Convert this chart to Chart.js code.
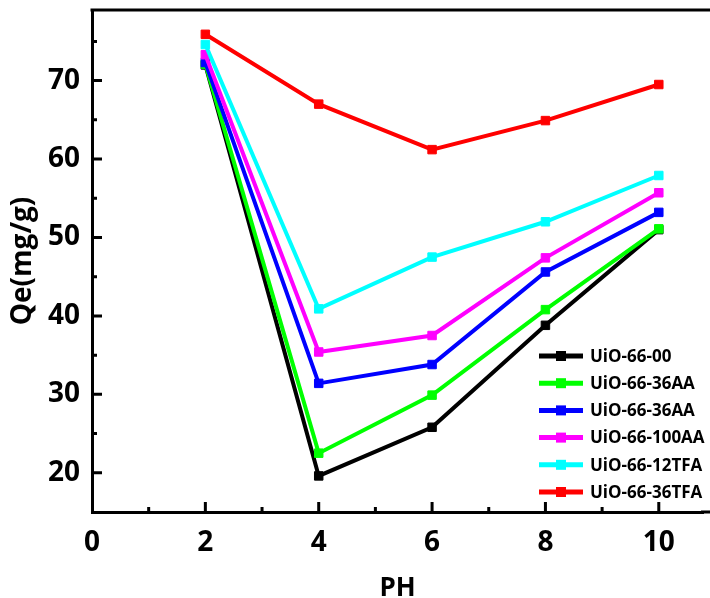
<!DOCTYPE html>
<html>
<head>
<meta charset="utf-8">
<script src="https://cdn.jsdelivr.net/npm/chart.js@4/dist/chart.umd.min.js"></script>
<style>
html,body{margin:0;padding:0;background:#fff;overflow:hidden;}
#wrap{width:710px;height:598px;position:relative;}
</style>
</head>
<body>
<div id="wrap"><canvas id="c" width="710" height="598"></canvas></div>
<script>
const phValues = [2, 4, 6, 8, 10];
const seriesNames = ['UiO-66-00', 'UiO-66-36AA', 'UiO-66-36AA', 'UiO-66-100AA', 'UiO-66-12TFA', 'UiO-66-36TFA'];
const qe00     = [72.0, 19.6, 25.8, 38.8, 51.0];
const qe36AA_a = [72.1, 22.5, 29.9, 40.8, 51.1];
const qe36AA_b = [72.3, 31.4, 33.8, 45.6, 53.2];
const qe100AA  = [73.3, 35.4, 37.5, 47.4, 55.7];
const qe12TFA  = [74.6, 40.9, 47.5, 52.0, 57.9];
const qe36TFA  = [75.9, 67.0, 61.2, 64.9, 69.5];
const seriesColors = ['#000000', '#00FF00', '#0000FF', '#FF00FF', '#00FFFF', '#FF0000'];
const xTicks = [0, 2, 4, 6, 8, 10];
const xMinorTicks = [1, 3, 5, 7, 9];
const yTicks = [20, 30, 40, 50, 60, 70];
const yMinorTicks = [15, 25, 35, 45, 55, 65, 75];

const allSeries = [qe00, qe36AA_a, qe36AA_b, qe100AA, qe12TFA, qe36TFA];
const FONT = "'Open Sans', 'DejaVu Sans', sans-serif";

const datasets = allSeries.map((s, i) => ({
  label: seriesNames[i],
  data: s.map((v, j) => ({x: phValues[j], y: v})),
  borderColor: seriesColors[i],
  backgroundColor: seriesColors[i],
  borderWidth: 4,
  pointStyle: 'rect',
  pointRadius: 6,
  pointBorderWidth: 1,
  pointHoverRadius: 6,
  tension: 0,
  order: allSeries.length - i
}));

const framePlugin = {
  id: 'frame',
  afterDraw(chart) {
    const ctx = chart.ctx;
    const a = chart.chartArea;
    const xs = chart.scales.x, ys = chart.scales.y;
    ctx.save();
    ctx.strokeStyle = '#000';
    ctx.lineWidth = 3;
    ctx.beginPath();
    ctx.moveTo(a.left - 1.5, a.top);
    ctx.lineTo(chart.width, a.top);
    ctx.moveTo(a.right - 2, a.bottom);
    ctx.lineTo(chart.width, a.bottom);
    ctx.stroke();
    ctx.beginPath();
    yTicks.forEach(v => { const p = ys.getPixelForValue(v); ctx.moveTo(a.left, p); ctx.lineTo(a.left + 10, p); });
    yMinorTicks.forEach(v => { const p = ys.getPixelForValue(v); if (p > a.top + 2 && p < a.bottom - 2) { ctx.moveTo(a.left, p); ctx.lineTo(a.left + 5, p); } });
    xTicks.forEach(v => { if (v === 0) return; const p = xs.getPixelForValue(v); ctx.moveTo(p, a.bottom); ctx.lineTo(p, a.bottom - 10); });
    xMinorTicks.forEach(v => { const p = xs.getPixelForValue(v); ctx.moveTo(p, a.bottom); ctx.lineTo(p, a.bottom - 5); });
    ctx.stroke();

    const startY = 356, step = 27.2;
    chart.data.datasets.forEach((ds, i) => {
      const y = startY + i * step;
      ctx.strokeStyle = ds.borderColor;
      ctx.lineWidth = 5;
      ctx.beginPath();
      ctx.moveTo(539, y);
      ctx.lineTo(583, y);
      ctx.stroke();
      ctx.fillStyle = ds.borderColor;
      ctx.fillRect(561 - 5, y - 5, 10, 10);
      ctx.fillStyle = '#000';
      ctx.font = "bold 17px " + FONT;
      ctx.textAlign = 'left';
      ctx.textBaseline = 'middle';
      ctx.fillText(ds.label, 590, y + 1);
    });
    ctx.restore();
  }
};

new Chart(document.getElementById('c'), {
  type: 'line',
  data: { datasets },
  options: {
    responsive: false,
    animation: false,
    events: [],
    layout: { padding: { top: 10, right: 0, left: 0, bottom: 0 } },
    plugins: { legend: { display: false }, tooltip: { enabled: false } },
    scales: {
      x: {
        type: 'linear',
        min: 0, max: 10.78,
        afterBuildTicks(scale) { scale.ticks = xTicks.map(v => ({value: v})); },
        afterFit(scale) { scale.height = 86; scale.paddingLeft = 0; scale.paddingRight = 0; },
        grid: { display: true, drawOnChartArea: false, drawTicks: false },
        border: { display: true, color: '#000', width: 3 },
        ticks: { color: '#000', font: { family: FONT, size: 28, weight: 'bold' }, padding: 14, maxRotation: 0, autoSkip: false },
        title: { display: true, text: 'PH', color: '#000', font: { family: FONT, size: 26, weight: 'bold' }, padding: { top: 0, bottom: -6 } }
      },
      y: {
        type: 'linear',
        min: 15, max: 79,
        afterBuildTicks(scale) { scale.ticks = yTicks.map(v => ({value: v})); },
        afterFit(scale) { scale.width = 92; scale.paddingTop = 0; scale.paddingBottom = 0; },
        grid: { display: true, drawOnChartArea: false, drawTicks: false },
        border: { display: true, color: '#000', width: 3 },
        ticks: { color: '#000', font: { family: FONT, size: 28, weight: 'bold' }, padding: 12, autoSkip: false },
        title: { display: true, text: 'Qe(mg/g)', color: '#000', font: { family: FONT, size: 28, weight: 'bold' }, padding: { top: 6, bottom: 0 } }
      }
    }
  },
  plugins: [framePlugin]
});
</script>
</body>
</html>
